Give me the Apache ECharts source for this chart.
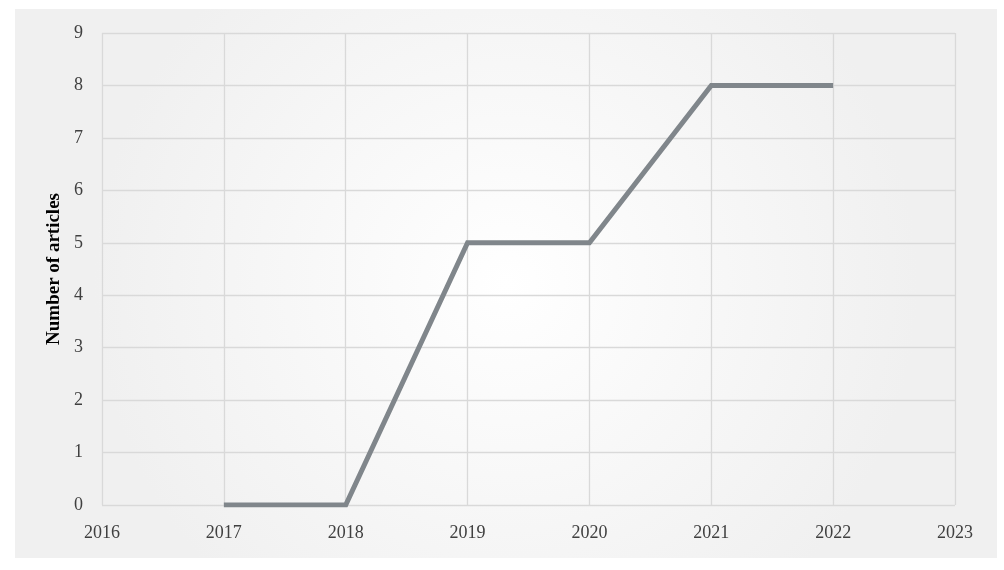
<!DOCTYPE html>
<html>
<head>
<meta charset="utf-8">
<script src="https://cdn.jsdelivr.net/npm/echarts@6/dist/echarts.min.js"></script>
<style>
    html, body { margin: 0; padding: 0; background: #fff; }
    #chart { width: 1004px; height: 570px; }
</style>
</head>
<body>
<div id="chart"></div>
<script>
// data
var years = [2017, 2018, 2019, 2020, 2021, 2022];
var articles = [0, 0, 5, 5, 8, 8];

var chart = echarts.init(document.getElementById('chart'));
var font = '"Liberation Serif", "DejaVu Serif", serif';

chart.setOption({
    animation: false,
    graphic: [{
        type: 'rect',
        z: -10,
        shape: { x: 15, y: 9, width: 982, height: 549 },
        style: {
            fill: {
                type: 'radial', x: 0.5, y: 0.5, r: 0.75,
                colorStops: [
                    { offset: 0, color: '#ffffff' },
                    { offset: 1, color: '#f0f0f0' }
                ]
            }
        },
        silent: true
    }],
    grid: {
        left: 102,
        right: 49,
        top: 33,
        bottom: 65,
        containLabel: false
    },
    xAxis: {
        type: 'value',
        min: 2016,
        max: 2023,
        interval: 1,
        axisLine: { show: false },
        axisTick: { show: false },
        axisLabel: {
            color: '#404040',
            fontFamily: font,
            fontSize: 18,
            margin: 19,
            formatter: function (v) { return String(v); }
        },
        splitLine: { show: true, lineStyle: { color: '#d9d9d9', width: 1.3 } }
    },
    yAxis: {
        type: 'value',
        min: 0,
        max: 9,
        interval: 1,
        name: 'Number of articles',
        nameLocation: 'center',
        nameGap: 38,
        nameTextStyle: {
            color: '#000',
            fontFamily: font,
            fontSize: 19,
            fontWeight: 'bold'
        },
        axisLine: { show: false },
        axisTick: { show: false },
        axisLabel: {
            color: '#404040',
            fontFamily: font,
            fontSize: 18,
            margin: 19
        },
        splitLine: { show: true, lineStyle: { color: '#d9d9d9', width: 1.3 } }
    },
    series: [{
        type: 'line',
        data: years.map(function (y, i) { return [y, articles[i]]; }),
        symbol: 'none',
        lineStyle: {
            color: '#80868b',
            width: 5,
            cap: 'butt',
            join: 'miter'
        }
    }]
});
</script>
</body>
</html>
